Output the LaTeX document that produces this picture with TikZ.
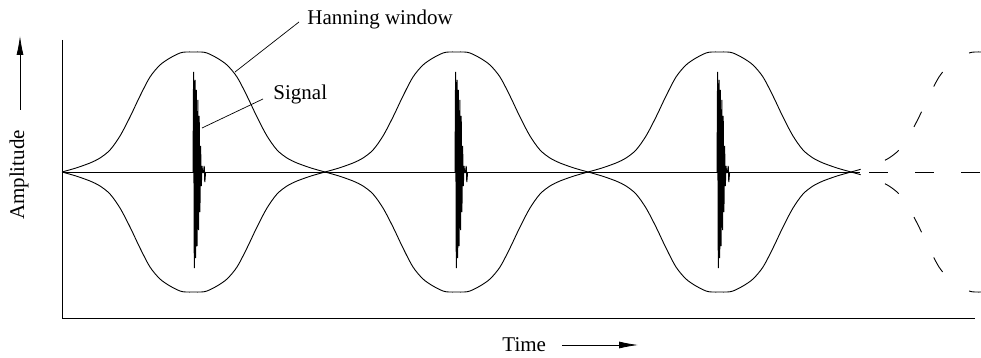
\documentclass[tikz,border=0pt]{standalone}
\usepackage{fontspec}
\setmainfont{Liberation Serif}
\usetikzlibrary{arrows.meta}

\begin{document}
\begin{tikzpicture}[x=1pt, y=-1pt, line width=0.9pt,
    lbl/.style={font=\fontsize{21}{25}\selectfont, inner sep=0pt},
    axarrow/.style={line width=0.8pt, -{Latex[length=19pt,width=7pt]}},
    burst/.style={line width=1pt},
    ghost/.style={dash pattern=on 10pt off 26pt on 17pt off 28pt on 17pt off 28pt on 17pt off 33pt on 30pt off 28pt}]
        \useasboundingbox (0,0) rectangle (981,358);

        % Axes
        \draw (62,40) -- (62,318) -- (975,318);
        \node[lbl, rotate=90, anchor=base] (amp) at (24,175) {Amplitude};
        \draw[axarrow] (20,110) -- (20,36);
        \node[lbl, anchor=base west] (time) at (502,351) {Time};
        \draw[axarrow] (562,345) -- (638,345);

        % Hanning windows (upper and lower halves)
        \foreach \s in {62,325,588} {
            \foreach \sg in {1,-1} {
                \begin{scope}[shift={(\s,172)}, yscale=\sg]
                    \draw plot[smooth] coordinates {(0,0) (14,-4) (28,-9) (38,-14) (48,-22) (58,-36) (68,-55) (78,-76) (88,-95) (98,-107) (108,-114) (118,-119) (124,-120) (131.5,-120) (139,-120) (145,-119) (155,-114) (165,-107) (175,-95) (185,-76) (195,-55) (205,-36) (215,-22) (225,-14) (235,-9) (249,-4) (263,0)};
                \end{scope}
            }
        }

        % Next window (dashed)
        \begin{scope}
            \clip (851,0) rectangle (981,358);
            \foreach \sg in {1,-1} {
                \begin{scope}[shift={(851,172)}, yscale=\sg]
                    \draw[ghost] plot[smooth] coordinates {(0,0) (14,-4) (28,-9) (38,-14) (48,-22) (58,-36) (68,-55) (78,-76) (88,-95) (98,-107) (108,-114) (118,-119) (124,-120) (131.5,-120) (139,-120) (145,-119) (155,-114) (165,-107) (175,-95)};
                \end{scope}
            }
        \end{scope}

        % Signal
        \draw (62,172) -- (851,172);
        \draw[dash pattern=on 9pt off 9pt on 19pt off 27pt on 19pt off 27pt on 19pt off 27pt] (851,172) -- (981,172);
        \foreach \c in {193,455,717} {
            \begin{scope}[shift={(\c,172)}]
                \draw[burst] plot coordinates {(0,0) (0.6,-100) (1.3,96) (2.0,-92) (2.7,86) (3.4,-82) (4.1,74) (4.8,-72) (5.5,58) (6.2,-56) (6.9,40) (7.6,-26) (8.3,14) (9,-6) (9.6,0) (10.5,0) (11.2,-6) (11.8,10) (12.6,0)};
            \end{scope}
        }

        % Labels
        \node[lbl, anchor=base west] (hann) at (307,25) {Hanning window};
        \node[lbl, anchor=base west] (sig) at (273,100) {Signal};
        \coordinate (hannfoot) at (235,72);
        \coordinate (sigfoot) at (202,128);
        \draw[line width=0.7pt] (hann.west) ++(-8,2) -- (hannfoot);
        \draw[line width=0.7pt] (sig.west) ++(-10,4) -- (sigfoot);
    \end{tikzpicture}
\end{document}
